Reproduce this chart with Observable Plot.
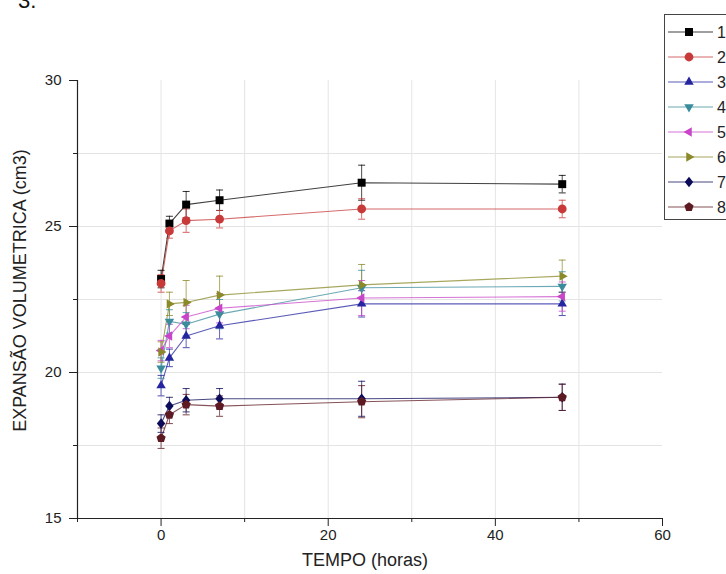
<!DOCTYPE html>
<html>
<head>
<meta charset="utf-8">
<script src="https://cdn.jsdelivr.net/npm/d3@7"></script>
<script src="https://cdn.jsdelivr.net/npm/@observablehq/plot@0.6"></script>
<style>
  html, body { margin: 0; padding: 0; background: #fff; }
  #wrap { position: relative; width: 726px; height: 574px; overflow: hidden; font-family: "Liberation Sans", Arial, sans-serif; }
  #num { position: absolute; left: 18px; top: -12px; font-size: 22px; color: #111; }
  #legend { position: absolute; left: 0; top: 0; }
</style>
</head>
<body>
<div id="wrap">
  <div id="num">3.</div>
  <div id="chart"></div>
  <svg id="legend" width="726" height="574"></svg>
</div>
<script>
const times = [0, 1, 3, 7, 24, 48];
const seriesNames = ["1", "2", "3", "4", "5", "6", "7", "8"];
const colors = ["#000000", "#c83a3a", "#2525a0", "#3a8c9c", "#c844c8", "#8a8a2a", "#0b0b5a", "#5e1a22"];
const s1 = [23.2, 25.1, 25.75, 25.9, 26.5, 26.45];
const s2 = [23.05, 24.85, 25.2, 25.25, 25.6, 25.6];
const s3 = [19.55, 20.5, 21.25, 21.6, 22.35, 22.35];
const s4 = [20.15, 21.75, 21.65, 22.0, 22.9, 22.95];
const s5 = [20.75, 21.25, 21.9, 22.2, 22.55, 22.6];
const s6 = [20.7, 22.35, 22.4, 22.65, 23.0, 23.3];
const s7 = [18.25, 18.85, 19.05, 19.1, 19.1, 19.15];
const s8 = [17.75, 18.55, 18.9, 18.85, 19.0, 19.15];
const e1 = [0.3, 0.25, 0.45, 0.35, 0.6, 0.3];
const e2 = [0.3, 0.25, 0.4, 0.3, 0.35, 0.3];
const e3 = [0.35, 0.3, 0.4, 0.45, 0.45, 0.4];
const e4 = [0.35, 0.4, 0.4, 0.5, 0.6, 0.5];
const e5 = [0.35, 0.4, 0.4, 0.5, 0.6, 0.5];
const e6 = [0.35, 0.4, 0.75, 0.65, 0.7, 0.55];
const e7 = [0.3, 0.3, 0.4, 0.35, 0.6, 0.45];
const e8 = [0.35, 0.3, 0.35, 0.35, 0.55, 0.45];
const xMajorTicks = [0, 20, 40, 60];
const xMinorTicks = [-10, 10, 30, 50];
const yMajorTicks = [15, 20, 25, 30];
const yMinorTicks = [17.5, 22.5, 27.5];

const values = [s1, s2, s3, s4, s5, s6, s7, s8];
const errors = [e1, e2, e3, e4, e5, e6, e7, e8];

// custom symbols
function rad(size) { return Math.sqrt(size / Math.PI); }
const symSquare = { draw(c, size) { const r = rad(size) * 0.95; c.rect(-r, -r, 2 * r, 2 * r); } };
const symCircle = { draw(c, size) { const r = rad(size) * 1.05; c.moveTo(r, 0); c.arc(0, 0, r, 0, 2 * Math.PI); } };
function tri(angle) {
  return { draw(c, size) {
    const r = rad(size) * 1.3;
    for (let i = 0; i < 3; i++) {
      const a = angle + i * 2 * Math.PI / 3;
      const x = r * Math.cos(a), y = r * Math.sin(a);
      if (i === 0) c.moveTo(x, y); else c.lineTo(x, y);
    }
    c.closePath();
  } };
}
const symUp = tri(-Math.PI / 2), symDown = tri(Math.PI / 2), symLeft = tri(Math.PI), symRight = tri(0);
const symDiamond = { draw(c, size) { const r = rad(size) * 1.25; c.moveTo(0, -r); c.lineTo(r * 0.8, 0); c.lineTo(0, r); c.lineTo(-r * 0.8, 0); c.closePath(); } };
const symPent = { draw(c, size) {
  const r = rad(size) * 1.15;
  for (let i = 0; i < 5; i++) {
    const a = -Math.PI / 2 + i * 2 * Math.PI / 5;
    const x = r * Math.cos(a), y = r * Math.sin(a);
    if (i === 0) c.moveTo(x, y); else c.lineTo(x, y);
  }
  c.closePath();
} };
const symCap = { draw(c, size) { c.moveTo(-3.5, 0); c.lineTo(3.5, 0); } };
const symbols = [symSquare, symCircle, symUp, symDown, symLeft, symRight, symDiamond, symPent];

const data = [];
values.forEach((vals, si) => {
  vals.forEach((v, i) => {
    data.push({ series: seriesNames[si], t: times[i], v, lo: v - errors[si][i], hi: v + errors[si][i] });
  });
});

const colorScale = { domain: seriesNames, range: colors };
const symbolScale = { domain: seriesNames, range: symbols };

const chart = Plot.plot({
  width: 726,
  height: 574,
  marginLeft: 77,
  marginRight: 64,
  marginTop: 80,
  marginBottom: 56,
  style: { fontFamily: "Liberation Sans, Arial, sans-serif", fontSize: "15px", color: "#222", background: "transparent" },
  x: { domain: [-10, 60] },
  y: { domain: [15, 30] },
  color: colorScale,
  symbol: symbolScale,
  marks: [
    Plot.gridX(xMinorTicks.concat(xMajorTicks).filter(d => d > -10 && d < 60), { stroke: "#e4e4e4", strokeOpacity: 1, strokeWidth: 1 }),
    Plot.gridY(yMinorTicks.concat([20, 25]), { stroke: "#e4e4e4", strokeOpacity: 1, strokeWidth: 1 }),
    Plot.axisX(xMajorTicks, { tickSize: 8, text: null, label: null, stroke: "#222" }),
    Plot.axisX(xMinorTicks, { tickSize: 4, text: null, label: null, stroke: "#222" }),
    Plot.axisY(yMajorTicks, { tickSize: 8, text: null, label: null, stroke: "#222" }),
    Plot.axisY(yMinorTicks, { tickSize: 4, text: null, label: null, stroke: "#222" }),
    Plot.text(xMajorTicks, { x: d => d, frameAnchor: "bottom", dy: 21, fontSize: 15, fill: "#222", text: d => String(d) }),
    Plot.text(yMajorTicks, { y: d => d, frameAnchor: "left", dx: -16, textAnchor: "end", fontSize: 15, fill: "#222", text: d => String(d) }),
    Plot.ruleY([15], { stroke: "#222", strokeWidth: 1.2 }),
    Plot.ruleX([-10], { stroke: "#222", strokeWidth: 1.2 }),
    Plot.line(data, { x: "t", y: "v", z: "series", stroke: "series", strokeWidth: 1.1, strokeOpacity: 0.75 }),
    Plot.ruleX(data, { x: "t", y1: "lo", y2: "hi", stroke: "series", strokeWidth: 1, strokeOpacity: 0.7 }),
    Plot.dot(data, { x: "t", y: "lo", symbol: () => symCap, stroke: "series", strokeWidth: 1, strokeOpacity: 0.8, r: 3 }),
    Plot.dot(data, { x: "t", y: "hi", symbol: () => symCap, stroke: "series", strokeWidth: 1, strokeOpacity: 0.8, r: 3 }),
    Plot.dot(data, { x: "t", y: "v", symbol: "series", fill: "series", stroke: "none", r: 4.2 }),
    Plot.text(["TEMPO (horas)"], { frameAnchor: "bottom", dx: -5, dy: 47, fontSize: 18, fill: "#222" }),
    Plot.text(["EXPANSÃO VOLUMETRICA (cm3)"], { frameAnchor: "left", dx: -57, dy: -9, rotate: -90, textAnchor: "middle", fontSize: 18, fill: "#222" })
  ]
});
document.getElementById("chart").appendChild(chart);

// legend
const lg = d3.select("#legend");
lg.append("rect").attr("x", 664.5).attr("y", 14.5).attr("width", 80).attr("height", 205)
  .attr("fill", "white").attr("stroke", "#444").attr("stroke-width", 1);
seriesNames.forEach((name, i) => {
  const y = 32 + i * 25;
  const g = lg.append("g");
  g.append("line").attr("x1", 668).attr("x2", 713).attr("y1", y).attr("y2", y)
    .attr("stroke", colors[i]).attr("stroke-opacity", 0.75).attr("stroke-width", 1.1);
  g.append("path").attr("transform", `translate(689,${y})`)
    .attr("d", d3.symbol(symbols[i], Math.PI * 4.2 * 4.2)())
    .attr("fill", colors[i]);
  g.append("text").attr("x", 717).attr("y", y + 6).attr("font-size", 16)
    .attr("font-family", "Liberation Sans, Arial, sans-serif").attr("fill", "#222").text(name);
});
</script>
</body>
</html>
